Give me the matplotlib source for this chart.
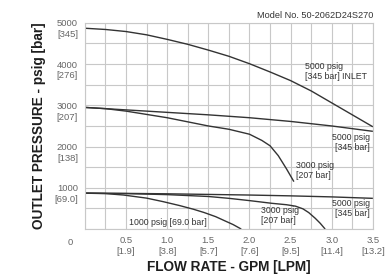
import numpy as np
import matplotlib
matplotlib.use('Agg')
import matplotlib.pyplot as plt
from matplotlib.transforms import ScaledTranslation

plt.rcParams['font.family'] = ['Liberation Sans', 'DejaVu Sans']

# curves (x = GPM, y = psig)
inlet5000_x = [0, 0.25, 0.5, 0.75, 1.0, 1.25, 1.5, 1.75, 2.0, 2.25, 2.5, 2.75, 3.0, 3.25, 3.5]
inlet5000_y = [4870, 4840, 4790, 4710, 4600, 4480, 4340, 4190, 4010, 3810, 3600, 3350, 3060, 2770, 2480]

hi5000_x = [0, 0.5, 1.0, 1.5, 2.0, 2.5, 3.0, 3.5]
hi5000_y = [2950, 2890, 2830, 2770, 2700, 2610, 2500, 2370]

hi3000_x = [0, 0.25, 0.5, 0.75, 1.0, 1.25, 1.5, 1.75, 2.0, 2.15, 2.25, 2.35, 2.45, 2.54]
hi3000_y = [2950, 2920, 2860, 2780, 2700, 2600, 2500, 2420, 2300, 2150, 2020, 1780, 1460, 1150]

lo5000_x = [0, 0.5, 1.0, 1.5, 2.0, 2.5, 3.0, 3.5]
lo5000_y = [870, 865, 855, 840, 825, 805, 780, 745]

lo3000_x = [0, 0.5, 1.0, 1.5, 1.75, 2.0, 2.27, 2.45, 2.56, 2.65, 2.72, 2.8, 2.86, 2.92]
lo3000_y = [870, 860, 835, 790, 745, 690, 625, 590, 555, 490, 400, 260, 140, 0]

lo1000_x = [0, 0.25, 0.47, 0.75, 0.95, 1.15, 1.32, 1.45, 1.59, 1.7, 1.8, 1.9]
lo1000_y = [870, 860, 825, 750, 665, 570, 480, 400, 300, 200, 110, 0]

x_ticks = [0.5, 1.0, 1.5, 2.0, 2.5, 3.0, 3.5]
x_labels = ['0.5\n[1.9]', '1.0\n[3.8]', '1.5\n[5.7]', '2.0\n[7.6]', '2.5\n[9.5]', '3.0\n[11.4]', '3.5\n[13.2]']
y_ticks = [1000, 2000, 3000, 4000, 5000]
y_labels = ['1000\n[69.0]', '2000\n[138]', '3000\n[207]', '4000\n[276]', '5000\n[345]']

fig = plt.figure(figsize=(3.86, 2.79), dpi=100)
ax = fig.add_axes([0.220, 0.179, 0.746, 0.739])

line_kw = dict(color='#333333', lw=1.0, solid_capstyle='butt')
for xs, ys in [(inlet5000_x, inlet5000_y), (hi5000_x, hi5000_y), (hi3000_x, hi3000_y),
               (lo5000_x, lo5000_y), (lo3000_x, lo3000_y), (lo1000_x, lo1000_y)]:
    ax.plot(xs, ys, **line_kw)

ax.set_xlim(0, 3.5)
ax.set_ylim(0, 5000)
ax.set_xticks(np.arange(0, 3.51, 0.25), minor=True)
ax.set_yticks(np.arange(0, 5001, 500), minor=True)
ax.set_xticks(x_ticks)
ax.set_xticklabels(x_labels)
ax.set_yticks(y_ticks)
ax.set_yticklabels(y_labels)
ax.grid(True, which='both', color='#c8c8c8', lw=0.8)
ax.set_axisbelow(True)
ax.tick_params(which='both', length=0, labelsize=6.8, labelcolor='#666666')
ax.tick_params(axis='x', pad=5)
ax.tick_params(axis='y', pad=5)
for s in ax.spines.values():
    s.set_color('#c8c8c8')
    s.set_linewidth(0.8)

# first line of each y label sits on its gridline
for lab in ax.get_yticklabels():
    lab.set_verticalalignment('top')
    lab.set_linespacing(1.25)
    lab.set_transform(lab.get_transform() + ScaledTranslation(0, 3.5 / 100, fig.dpi_scale_trans))
for lab in ax.get_xticklabels():
    lab.set_linespacing(1.25)

ax.text(-0.05, -0.065, '0', transform=ax.transAxes, ha='center', va='center',
        fontsize=6.8, color='#666666')

ax.set_xlabel('FLOW RATE - GPM [LPM]', fontsize=9.8, fontweight='bold', color='#1e1e1e', labelpad=3)
ax.set_ylabel('OUTLET PRESSURE - psig [bar]', fontsize=9.8, fontweight='bold', color='#1e1e1e', labelpad=6)

fig.text(373 / 386, 1 - 16 / 279, 'Model No. 50-2062D24S270', ha='right', va='center',
         fontsize=6.6, color='#333333')

ann_kw = dict(fontsize=6.3, color='#333333', linespacing=1.15)
ax.text(2.68, 3810, '5000 psig\n[345 bar] INLET', ha='left', va='center', **ann_kw)
ax.text(3.46, 2090, '5000 psig\n[345 bar]', ha='right', va='center', **ann_kw)
ax.text(2.56, 1430, '3000 psig\n[207 bar]', ha='left', va='center', **ann_kw)
ax.text(3.46, 510, '5000 psig\n[345 bar]', ha='right', va='center', **ann_kw)
ax.text(2.14, 340, '3000 psig\n[207 bar]', ha='left', va='center', **ann_kw)
ax.text(0.53, 150, '1000 psig [69.0 bar]', ha='left', va='center', **ann_kw)

fig.savefig('out.png', dpi=100)
